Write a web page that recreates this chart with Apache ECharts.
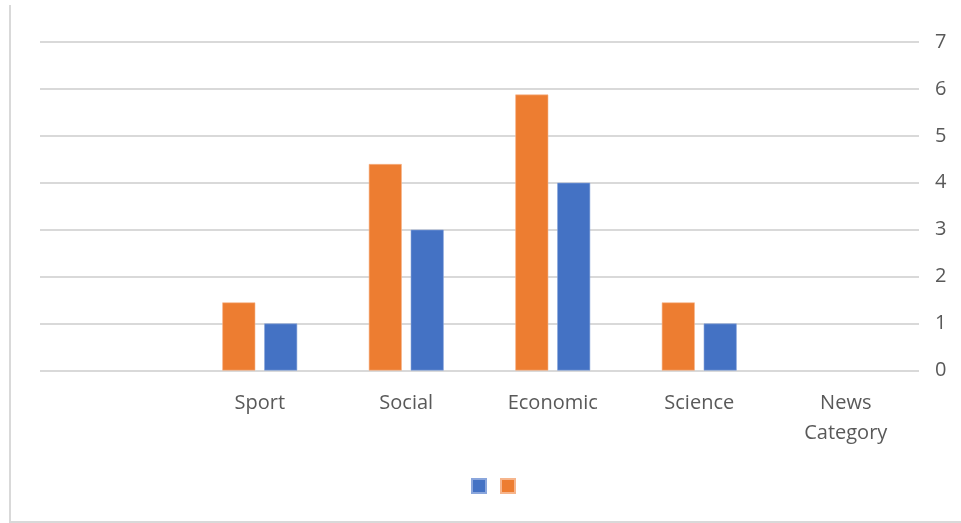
<!DOCTYPE html>
<html>
<head>
<meta charset="utf-8">
<script src="https://cdn.jsdelivr.net/npm/echarts@6/dist/echarts.min.js"></script>
<style>
  html, body { margin: 0; padding: 0; background: #fff; }
  #chart { width: 961px; height: 523px; }
</style>
</head>
<body>
<div id="chart"></div>
<script>
// Category slots along the bottom axis (first slot intentionally blank)
const categories = ['', 'Sport', 'Social', 'Economic', 'Science', 'News\nCategory'];
// Two series per category
const orangeValues = [null, 1.45, 4.4, 5.88, 1.45, null];
const blueValues = [null, 1, 3, 4, 1, null];
// Value axis ticks
const yTicks = [0, 1, 2, 3, 4, 5, 6, 7];

const labelFont = '"Open Sans", "Noto Sans", sans-serif';
const textColor = '#595959';

const chart = echarts.init(document.getElementById('chart'), null, { renderer: 'canvas' });

chart.setOption({
  animation: false,
  backgroundColor: '#ffffff',
  grid: { left: 40, right: 42, top: 42, bottom: 152.5, containLabel: false },
  legend: {
    top: 478,
    left: 471,
    itemWidth: 14,
    itemHeight: 14,
    itemGap: 13,
    icon: 'rect',
    data: ['Series B', 'Series A'],
    formatter: () => '',
    textStyle: { fontSize: 1, padding: 0 },
    padding: 0
  },
  xAxis: {
    type: 'category',
    data: categories,
    axisLine: { show: false },
    axisTick: { show: false },
    axisLabel: {
      color: textColor,
      fontFamily: labelFont,
      fontSize: 20,
      lineHeight: 30,
      margin: 18,
      interval: 0
    }
  },
  yAxis: {
    type: 'value',
    position: 'right',
    min: yTicks[0],
    max: yTicks[yTicks.length - 1],
    interval: 1,
    axisLine: { show: false },
    axisTick: { show: false },
    axisLabel: {
      color: textColor,
      fontFamily: labelFont,
      fontSize: 20,
      margin: 16
    },
    splitLine: { lineStyle: { color: '#d9d9d9', width: 2 } }
  },
  series: [
    {
      name: 'Series A',
      type: 'bar',
      data: orangeValues,
      barWidth: 33,
      barGap: '27%',
      itemStyle: { color: '#ED7D31', borderColor: '#f6b58c', borderWidth: 0.6 }
    },
    {
      name: 'Series B',
      type: 'bar',
      data: blueValues,
      barWidth: 33,
      barGap: '27%',
      itemStyle: { color: '#4472C4', borderColor: '#8aa6dc', borderWidth: 0.6 }
    }
  ],
  graphic: [
    {
      type: 'polyline',
      shape: { points: [[10, 5], [10, 522], [961, 522]] },
      style: { stroke: '#d9d9d9', lineWidth: 2, fill: null },
      silent: true
    }
  ]
});
</script>
</body>
</html>
